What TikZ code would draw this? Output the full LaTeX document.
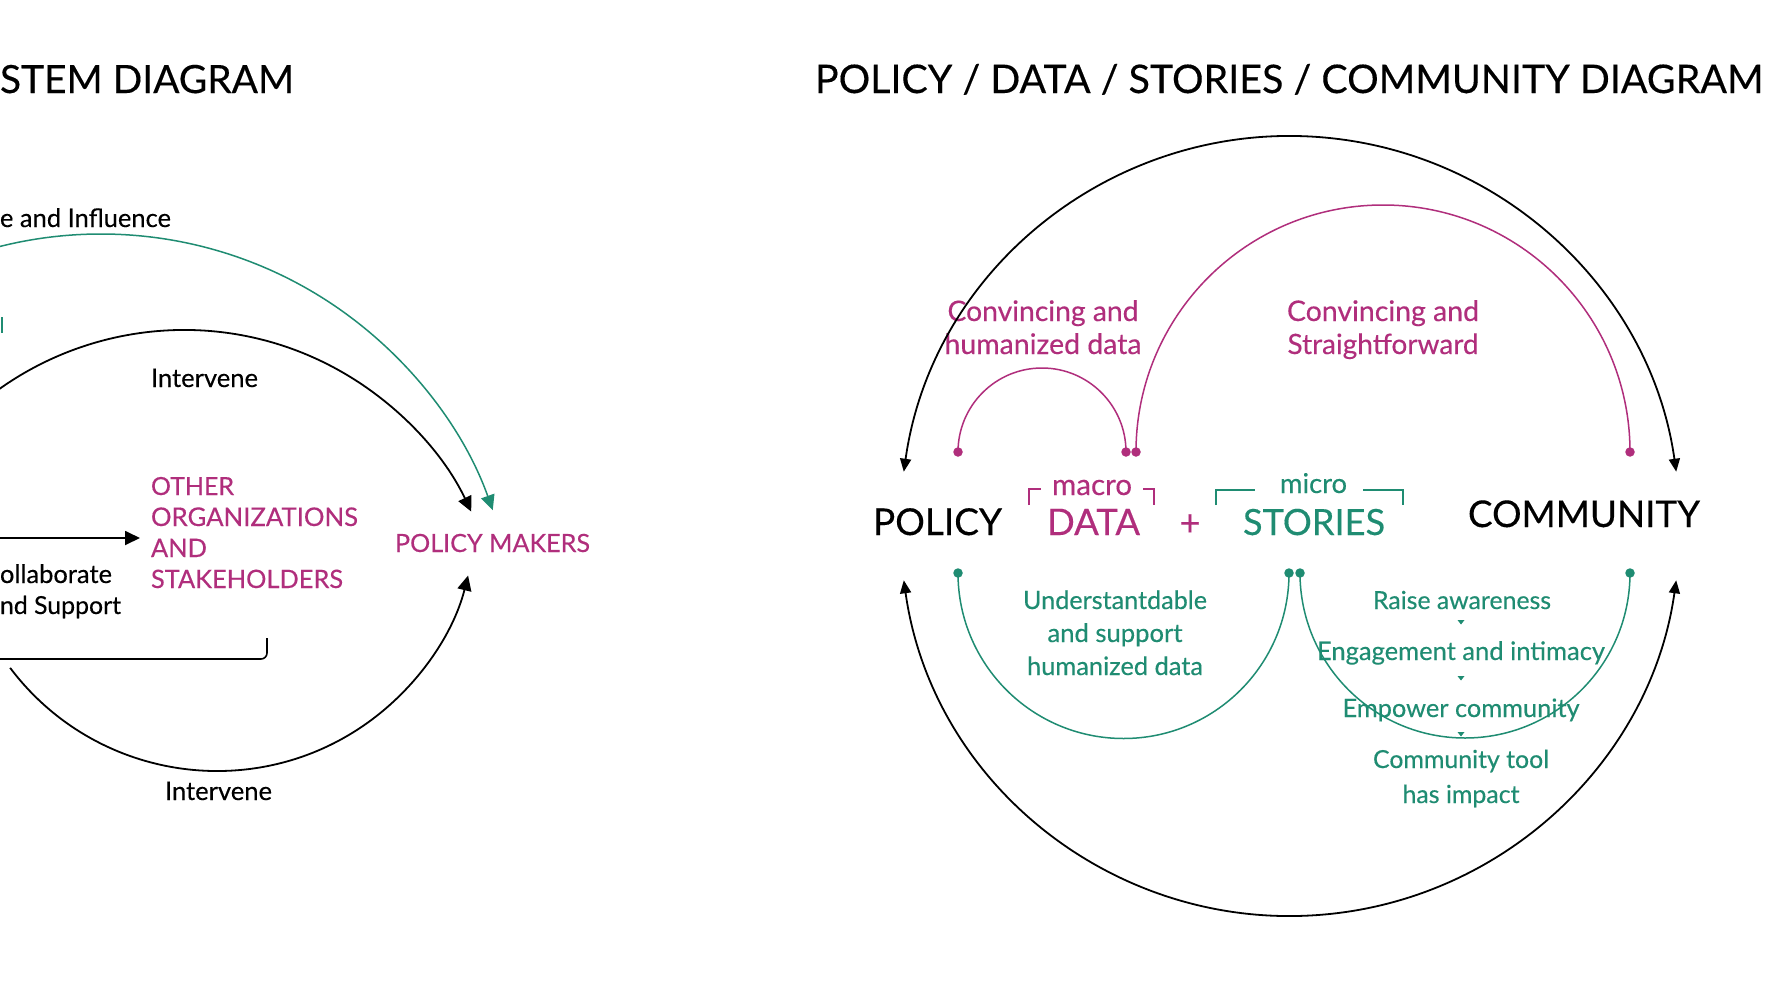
\documentclass[tikz,border=0pt]{standalone}
\usepackage{fontspec}
\setmainfont{Lato}[FakeBold=0.3]
\usetikzlibrary{arrows.meta}
\definecolor{mgt}{RGB}{176,46,124}
\definecolor{tl}{RGB}{31,140,114}
\newcommand\fw[2]{\resizebox{#1pt}{!}{#2}}
\tikzset{
  txt/.style={inner sep=0pt, outer sep=0pt},
  blk/.style={line width=1.8pt, black},
  col/.style={line width=1.5pt},
  bigtip/.style={-{Triangle[length=15pt,width=14pt]}},
  dotm/.style={circle, inner sep=0pt, minimum size=9.5pt, fill=mgt},
  dott/.style={circle, inner sep=0pt, minimum size=9.5pt, fill=tl},
  tri/.style={fill=tl}
}
\begin{document}
\begin{tikzpicture}[x=1pt,y=-1pt]
\useasboundingbox (0,0) rectangle (1770,996);
\clip (0,0) rectangle (1770,996);
\fill[white] (0,0) rectangle (1770,996);

% ---------------- left diagram ----------------
\node[txt, anchor=base east] (tL) at (294,93) {\fw{294}{STEM DIAGRAM}};
\node[txt, anchor=base east] (adv) at (171,227) {\fw{171}{e and Influence}};
\node[txt, anchor=base west] (iv1) at (151,387) {\fw{107}{Intervene}};
\node[txt, anchor=base west] (iv2) at (165,800) {\fw{107}{Intervene}};
\node[txt, anchor=base west, text=mgt] (o1) at (151,495) {\fw{83}{OTHER}};
\node[txt, anchor=base west, text=mgt] (o2) at (151,526) {\fw{207}{ORGANIZATIONS}};
\node[txt, anchor=base west, text=mgt] (o3) at (151,557) {\fw{56}{AND}};
\node[txt, anchor=base west, text=mgt] (o4) at (151,588) {\fw{192}{STAKEHOLDERS}};
\node[txt, anchor=base west, text=mgt] (pm) at (395,552) {\fw{195}{POLICY MAKERS}};
\node[txt, anchor=base east] (cb1) at (112,583) {\fw{112}{ollaborate}};
\node[txt, anchor=base east] (cb2) at (121,614) {\fw{121}{nd Support}};

\coordinate (hStart) at (-20,538);
\coordinate (hEnd) at (140,538);
\draw[blk, bigtip] (hStart) -- (hEnd);
\coordinate (brL) at (-20,659);
\coordinate (brR) at (267,638);
\draw[line width=1.6pt, rounded corners=6pt] (brL) -- (267,659) -- (brR);
\coordinate (gmA) at (2,317);
\coordinate (gmB) at (2,333);
\draw[tl, line width=2.5pt] (gmA) -- (gmB);

\coordinate (cTop) at (184,648);
\coordinate (cGrn) at (101,650);
\coordinate (cBot) at (217,512);
\draw[tl, col, -{Triangle[length=15pt,width=14pt]}] (cGrn) ++(-115:416) arc[start angle=-115, end angle=-19.65, radius=416];
\draw[blk, bigtip] (cTop) ++(-150:318) arc[start angle=-150, end angle=-25.4, radius=318];
\draw[blk, bigtip] (cBot) ++(143:259) arc[start angle=143, end angle=14.2, radius=259];

% ---------------- right diagram ----------------
\node[txt, anchor=base west] (tR) at (815,93) {\fw{948}{POLICY / DATA / STORIES / COMMUNITY DIAGRAM}};

\node[txt, anchor=base west] (pol) at (873,535) {\fw{129}{POLICY}};
\node[txt, anchor=base west, text=mgt] (mac) at (1052,495) {\fw{80}{macro}};
\node[txt, anchor=base west, text=mgt] (dat) at (1047,535) {\fw{93}{DATA}};
\node[txt, text=mgt] (plus) at (1190,525) {\fw{21}{+}};
\node[txt, anchor=base west, text=tl] (mic) at (1280,493) {\fw{67}{micro}};
\node[txt, anchor=base west, text=tl] (sto) at (1243,535) {\fw{142}{STORIES}};
\node[txt, anchor=base west] (com) at (1468,527) {\fw{232}{COMMUNITY}};

\node[txt, anchor=base, text=mgt] (ca1) at (1043,321) {\fw{191}{Convincing and}};
\node[txt, anchor=base, text=mgt] (ca2) at (1043,354) {\fw{197}{humanized data}};
\node[txt, anchor=base, text=mgt] (cs1) at (1383,321) {\fw{192}{Convincing and}};
\node[txt, anchor=base, text=mgt] (cs2) at (1383,354) {\fw{191}{Straightforward}};

\node[txt, anchor=base, text=tl] (u1) at (1115,609) {\fw{184}{Understantdable}};
\node[txt, anchor=base, text=tl] (u2) at (1115,642) {\fw{135}{and support}};
\node[txt, anchor=base, text=tl] (u3) at (1115,675) {\fw{176}{humanized data}};

\node[txt, anchor=base, text=tl] (r1) at (1462,609) {\fw{178}{Raise awareness}};
\node[txt, anchor=base, text=tl] (r2) at (1461,660) {\fw{288}{Engagement and intimacy}};
\node[txt, anchor=base, text=tl] (r3) at (1461,717) {\fw{237}{Empower community}};
\node[txt, anchor=base, text=tl] (r4) at (1461,768) {\fw{176}{Community tool}};
\node[txt, anchor=base, text=tl] (r5) at (1461,803) {\fw{117}{has impact}};

\fill[tri] (1457.5,620) -- (1464.5,620) -- (1461,624.5) -- cycle;
\fill[tri] (1457.5,676) -- (1464.5,676) -- (1461,680.5) -- cycle;
\fill[tri] (1457.5,732) -- (1464.5,732) -- (1461,736.5) -- cycle;

% brackets
\draw[mgt, line width=1.3pt] (1029,505) -- (1029,489) -- (1041,489);
\draw[mgt, line width=1.3pt] (1143,489) -- (1154,489) -- (1154,505);
\draw[tl, line width=1.3pt] (1216,505) -- (1216,490) -- (1255,490);
\draw[tl, line width=1.3pt] (1363,490) -- (1403,490) -- (1403,505);

% big black circle arcs
\coordinate (cc) at (1290,526);
\draw[blk, {Triangle[length=13pt,width=11pt]}-{Triangle[length=13pt,width=11pt]}] (cc) ++(188:390) arc[start angle=188, end angle=352, radius=390];
\draw[blk, {Triangle[length=13pt,width=11pt]}-{Triangle[length=13pt,width=11pt]}] (cc) ++(172:390) arc[start angle=172, end angle=8, radius=390];

% dots
\coordinate (m1) at (958,452);
\coordinate (m2) at (1126,452);
\coordinate (m3) at (1136,452);
\coordinate (m4) at (1630,452);
\coordinate (g1) at (958,573);
\coordinate (g2) at (1289,573);
\coordinate (g3) at (1300,573);
\coordinate (g4) at (1630,573);
\draw[mgt, col] (m1) arc[start angle=180, end angle=360, radius=84];
\draw[mgt, col] (m3) arc[start angle=180, end angle=360, radius=247];
\draw[tl, col] (g1) arc[start angle=180, end angle=0, radius=165.5];
\draw[tl, col] (g3) arc[start angle=180, end angle=0, radius=165];
\node[dotm] (dm1) at (m1) {};
\node[dotm] (dm2) at (m2) {};
\node[dotm] (dm3) at (m3) {};
\node[dotm] (dm4) at (m4) {};
\node[dott] (dg1) at (g1) {};
\node[dott] (dg2) at (g2) {};
\node[dott] (dg3) at (g3) {};
\node[dott] (dg4) at (g4) {};
\end{tikzpicture}
\end{document}
